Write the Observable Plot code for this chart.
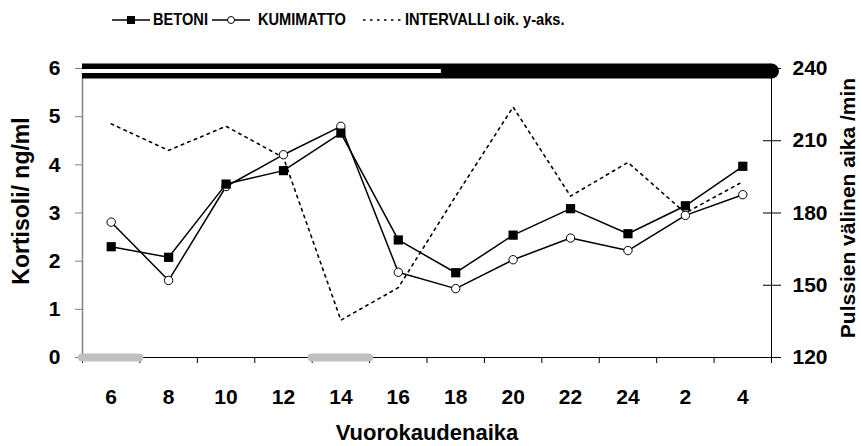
<!DOCTYPE html>
<html>
<head>
<meta charset="utf-8">
<script src="https://cdn.jsdelivr.net/npm/d3@7"></script>
<script src="https://cdn.jsdelivr.net/npm/@observablehq/plot@0.6"></script>
<style>
  html, body { margin: 0; padding: 0; background: #fff; }
  body { width: 861px; height: 446px; overflow: hidden; font-family: "Liberation Sans", Arial, sans-serif; }
  #legend { position: relative; height: 40px; width: 861px; font-weight: bold; font-size: 17px; color: #000; }
  #legend .sym { position: absolute; top: 14px; }
  #legend .txt { position: absolute; top: 10px; line-height: 20px; white-space: nowrap; transform: scaleX(0.86); transform-origin: left center; }
  #chart svg { display: block; font-family: "Liberation Sans", Arial, sans-serif; font-weight: bold; }
</style>
</head>
<body>
<div id="legend"></div>
<div id="chart"></div>
<script>
// ---- data ----
const timeLabels = ["6", "8", "10", "12", "14", "16", "18", "20", "22", "24", "2", "4"];
const hours = [6, 8, 10, 12, 14, 16, 18, 20, 22, 24, 26, 28];
const betoni = [2.30, 2.08, 3.60, 3.88, 4.66, 2.44, 1.76, 2.54, 3.09, 2.57, 3.15, 3.97];
const kumimatto = [2.81, 1.60, 3.55, 4.21, 4.80, 1.77, 1.43, 2.03, 2.48, 2.22, 2.95, 3.38];
const intervalli = [217, 206, 216, 203, 135.5, 149, 187, 224, 187, 201, 180, 193];
const leftTicks = [0, 1, 2, 3, 4, 5, 6];
const rightTicks = [120, 150, 180, 210, 240];
const slotEdges = [5, 7, 9, 11, 13, 15, 17, 19, 21, 23, 25, 27, 29];
const grayPeriods = [{start: 5, end: 7}, {start: 13, end: 15}];
const topBar = [{start: 5, end: 29, whiteEnd: 17.5, level: 6}];
const seriesNames = ["BETONI", "KUMIMATTO", "INTERVALLI oik. y-aks."];

// right axis (120..240) mapped onto left axis (0..6)
const rightMin = 120, rightMax = 240, leftMax = 6;
const toLeft = v => (v - rightMin) / (rightMax - rightMin) * leftMax;

const rowsB = hours.map((h, i) => ({h, v: betoni[i]}));
const rowsK = hours.map((h, i) => ({h, v: kumimatto[i]}));
const rowsI = hours.map((h, i) => ({h, v: toLeft(intervalli[i])}));

const F = 21;

const chart = Plot.plot({
  width: 861,
  height: 406,
  marginTop: 28,
  marginBottom: 89,
  marginLeft: 82,
  marginRight: 90,
  x: {domain: [slotEdges[0], slotEdges[slotEdges.length - 1]]},
  y: {domain: [0, leftMax]},
  style: {fontFamily: "Liberation Sans, Arial, sans-serif", fontWeight: "bold", color: "#000", background: "#fff"},
  marks: [
    // left axis
    Plot.ruleX([slotEdges[0]], {stroke: "#808080", strokeWidth: 1.5}),
    Plot.axisY({ticks: leftTicks, tickSize: 7, stroke: "#808080", fill: "none", label: null}),
    Plot.axisY({ticks: leftTicks, tickSize: 7, tickPadding: 15, stroke: "none", fill: "#000",
      tickFormat: d => String(d), fontSize: F, fontWeight: "bold", label: null}),
    // right axis
    Plot.ruleX([slotEdges[slotEdges.length - 1]], {stroke: "#000"}),
    Plot.axisY({anchor: "right", ticks: rightTicks.map(toLeft), tickSize: 18, dx: -9, stroke: "#000", fill: "none", label: null}),
    Plot.axisY({anchor: "right", ticks: rightTicks.map(toLeft), tickSize: 9, tickPadding: 12, stroke: "none", fill: "#000",
      tickFormat: d => String(rightTicks[rightTicks.map(toLeft).indexOf(d)]), fontSize: F, fontWeight: "bold", label: null}),
    // x axis
    Plot.ruleY([0], {stroke: "#000"}),
    Plot.axisX({ticks: slotEdges, tickSize: 6, stroke: "#000", fill: "none", label: null}),
    Plot.axisX({ticks: hours, tickSize: 0, tickPadding: 32, stroke: "none", fill: "#000",
      tickFormat: d => timeLabels[hours.indexOf(d)], fontSize: F, fontWeight: "bold", label: null}),
    // gray periods
    Plot.ruleY(grayPeriods, {y: 0, x1: "start", x2: "end", stroke: "#c0c0c0", strokeWidth: 8, strokeLinecap: "round"}),
    // top bar
    Plot.ruleY(topBar, {y: "level", x1: "start", x2: "end", stroke: "#000", strokeWidth: 15, dy: 2.5}),
    Plot.dot(topBar, {x: "end", y: "level", r: 7.5, fill: "#000", stroke: "none", dy: 2.5}),
    Plot.ruleY(topBar, {y: "level", x1: "start", x2: "whiteEnd", stroke: "#fff", strokeWidth: 4, dy: 2.5}),
    // interval (dotted)
    Plot.line(rowsI, {x: "h", y: "v", stroke: "#000", strokeWidth: 1.6, strokeDasharray: "2.5,4.5"}),
    // kumimatto
    Plot.line(rowsK, {x: "h", y: "v", stroke: "#000", strokeWidth: 1.5}),
    Plot.dot(rowsK, {x: "h", y: "v", r: 4.2, fill: "#fff", stroke: "#000", strokeWidth: 1}),
    // betoni
    Plot.line(rowsB, {x: "h", y: "v", stroke: "#000", strokeWidth: 1.5}),
    Plot.dot(rowsB, {x: "h", y: "v", symbol: "square", r: 5.2, fill: "#000", stroke: "none"}),
    // titles
    Plot.text(["Vuorokaudenaika"], {frameAnchor: "bottom", dy: 75, lineAnchor: "middle", textAnchor: "middle", fontSize: 22, fontWeight: "bold", fill: "#000"}),
    Plot.text(["Kortisoli/ ng/ml"], {frameAnchor: "left", dx: -61, dy: -12, rotate: -90, lineAnchor: "middle", textAnchor: "middle", fontSize: 23, fontWeight: "bold", fill: "#000"}),
    Plot.text(["Pulssien välinen aika /min"], {frameAnchor: "right", dx: 77, dy: -5, rotate: -90, lineAnchor: "middle", textAnchor: "middle", fontSize: 21, fontWeight: "bold", fill: "#000"})
  ]
});
document.getElementById("chart").appendChild(chart);

// ---- legend ----
const legend = document.getElementById("legend");
function addSym(left, inner) {
  const s = document.createElementNS("http://www.w3.org/2000/svg", "svg");
  s.setAttribute("class", "sym");
  s.setAttribute("width", 40);
  s.setAttribute("height", 12);
  s.style.left = left + "px";
  s.innerHTML = inner;
  legend.appendChild(s);
}
function addTxt(left, text) {
  const d = document.createElement("div");
  d.className = "txt";
  d.style.left = left + "px";
  d.textContent = text;
  legend.appendChild(d);
}
addSym(112, `<line x1="0" y1="6" x2="38" y2="6" stroke="#000" stroke-width="1.5"/><rect x="15" y="2" width="8" height="8" fill="#000"/>`);
addTxt(153, seriesNames[0]);
addSym(212, `<line x1="0" y1="6" x2="38" y2="6" stroke="#000" stroke-width="1.5"/><circle cx="19" cy="6" r="3.5" fill="#fff" stroke="#000" stroke-width="1"/>`);
addTxt(258, seriesNames[1]);
addSym(363, `<line x1="0" y1="6" x2="38" y2="6" stroke="#000" stroke-width="1.6" stroke-dasharray="2.5,4.5"/>`);
addTxt(405, seriesNames[2]);
</script>
</body>
</html>
